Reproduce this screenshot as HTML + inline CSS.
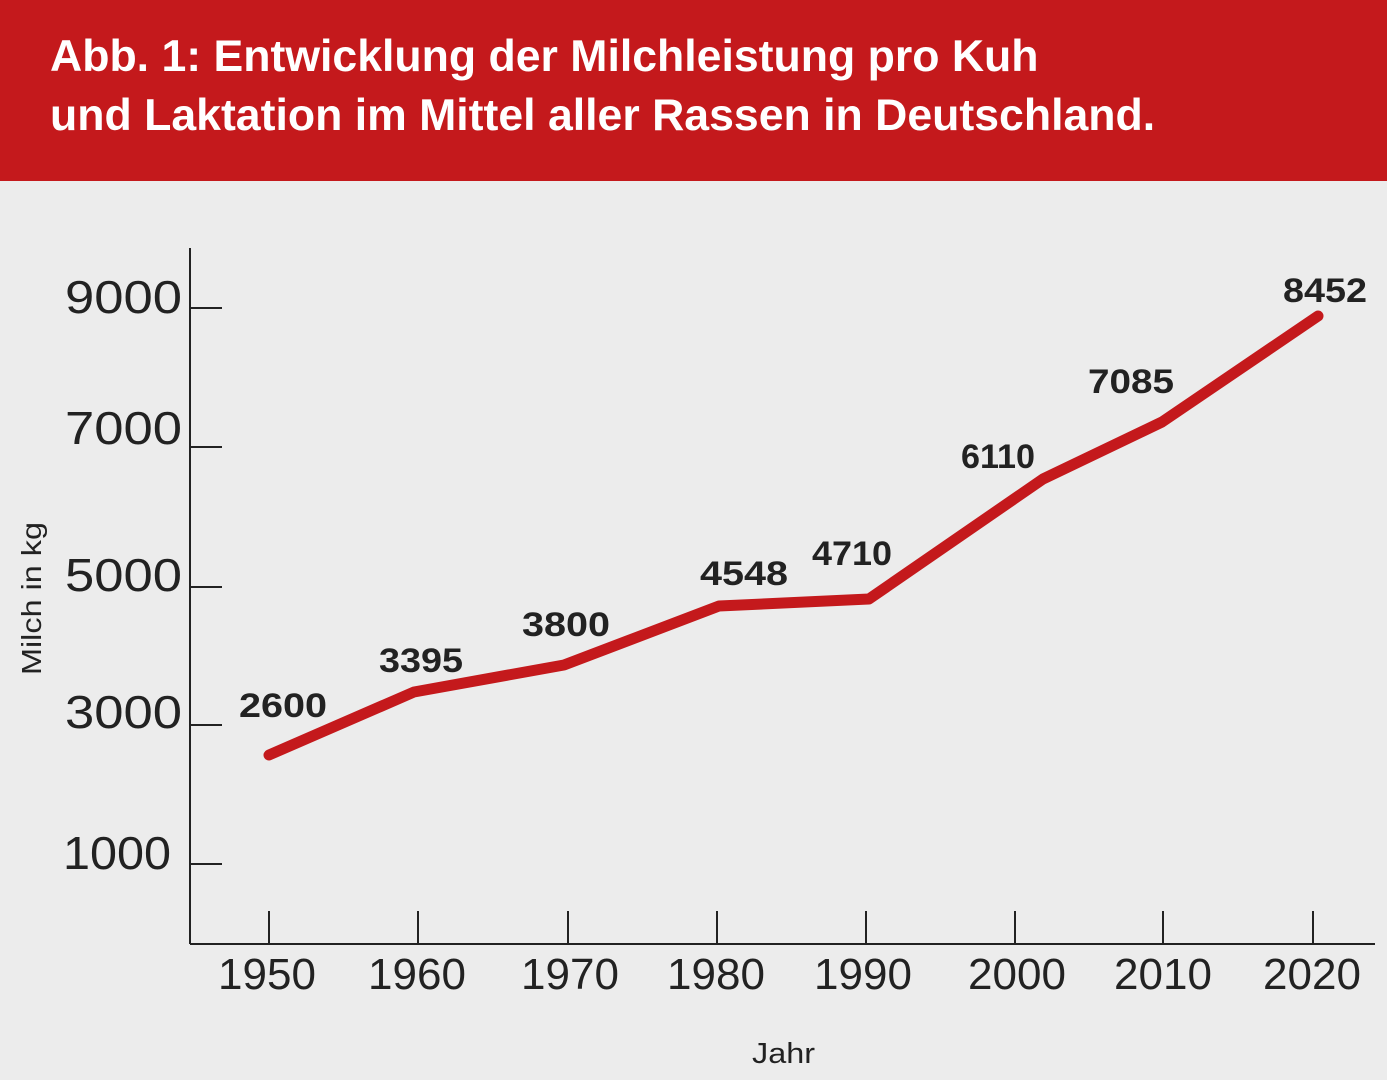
<!DOCTYPE html>
<html><head><meta charset="utf-8"><style>
html,body{margin:0;padding:0;}
body{width:1387px;height:1080px;background:#ececec;position:relative;overflow:hidden;font-family:"Liberation Sans",sans-serif;}
.hdr{position:absolute;left:0;top:0;width:1387px;height:181px;background:#c4191c;}
.t{position:absolute;left:50px;color:#fff;font-weight:bold;font-size:44.6px;white-space:nowrap;}
</style></head><body>
<div class="hdr"></div>
<div class="t" style="top:32px">Abb. 1: Entwicklung der Milchleistung pro Kuh</div>
<div class="t" style="top:91px">und Laktation im Mittel aller Rassen in Deutschland.</div>
<svg width="1387" height="1080" style="position:absolute;left:0;top:0" font-family="Liberation Sans, sans-serif">
<g stroke="#222" stroke-width="2" fill="none">
<line x1="190" y1="248" x2="190" y2="944"/>
<line x1="190" y1="944" x2="1375" y2="944"/>
<line x1="190" y1="308" x2="222" y2="308"/>
<line x1="190" y1="447" x2="222" y2="447"/>
<line x1="190" y1="587" x2="222" y2="587"/>
<line x1="190" y1="725" x2="222" y2="725"/>
<line x1="190" y1="864" x2="222" y2="864"/>
<line x1="269" y1="911" x2="269" y2="944"/>
<line x1="418" y1="911" x2="418" y2="944"/>
<line x1="568" y1="911" x2="568" y2="944"/>
<line x1="717" y1="911" x2="717" y2="944"/>
<line x1="866" y1="911" x2="866" y2="944"/>
<line x1="1015" y1="911" x2="1015" y2="944"/>
<line x1="1163" y1="911" x2="1163" y2="944"/>
<line x1="1313" y1="911" x2="1313" y2="944"/>
</g>
<g fill="#222" font-size="46">
<text x="65" y="313" textLength="117" lengthAdjust="spacingAndGlyphs">9000</text>
<text x="65" y="444" textLength="117" lengthAdjust="spacingAndGlyphs">7000</text>
<text x="65" y="591" textLength="117" lengthAdjust="spacingAndGlyphs">5000</text>
<text x="65" y="728" textLength="117" lengthAdjust="spacingAndGlyphs">3000</text>
<text x="63" y="869" textLength="108" lengthAdjust="spacingAndGlyphs">1000</text>
</g>
<g fill="#222" font-size="44" text-anchor="middle">
<text x="267" y="989">1950</text>
<text x="417" y="989">1960</text>
<text x="570" y="989">1970</text>
<text x="716" y="989">1980</text>
<text x="863" y="989">1990</text>
<text x="1017" y="989">2000</text>
<text x="1163" y="989">2010</text>
<text x="1312" y="989">2020</text>
</g>
<polyline points="269,755 414,692 564,665 719,606 869,599 1043,479 1162,422 1318,316" fill="none" stroke="#c4191c" stroke-width="11" stroke-linecap="round" stroke-linejoin="round"/>
<g fill="#222" font-size="34" font-weight="bold">
<text x="239" y="717" textLength="88" lengthAdjust="spacingAndGlyphs">2600</text>
<text x="379" y="672" textLength="84" lengthAdjust="spacingAndGlyphs">3395</text>
<text x="522" y="636" textLength="88" lengthAdjust="spacingAndGlyphs">3800</text>
<text x="700" y="585" textLength="88" lengthAdjust="spacingAndGlyphs">4548</text>
<text x="812" y="565" textLength="80" lengthAdjust="spacingAndGlyphs">4710</text>
<text x="961" y="468" textLength="74" lengthAdjust="spacingAndGlyphs">6110</text>
<text x="1088" y="393" textLength="86" lengthAdjust="spacingAndGlyphs">7085</text>
<text x="1283" y="302" textLength="84" lengthAdjust="spacingAndGlyphs">8452</text>
</g>
<text x="752" y="1063" font-size="29" fill="#222" textLength="63" lengthAdjust="spacingAndGlyphs">Jahr</text>
<text transform="translate(41,675) rotate(-90)" font-size="28" fill="#222" textLength="153" lengthAdjust="spacingAndGlyphs">Milch in kg</text>
</svg>
</body></html>
